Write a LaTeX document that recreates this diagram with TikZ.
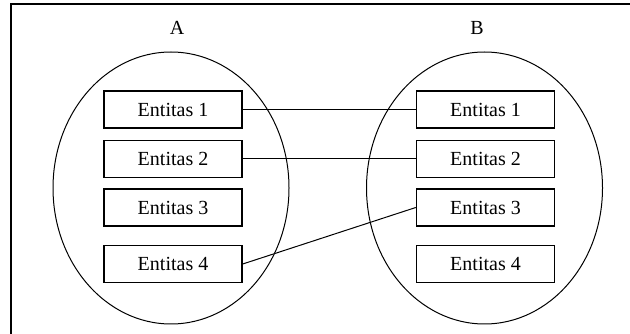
\documentclass[tikz,border=0pt]{standalone}
\usepackage{fontspec}
\setmainfont{Liberation Serif}
\usetikzlibrary{positioning,shapes.geometric}
\tikzset{entbox/.style={draw,line width=0.9pt,minimum width=82.8pt,minimum height=22.2pt,inner sep=0pt,font=\fontsize{12}{14}\selectfont},
  setell/.style={draw,ellipse,line width=0.6pt,minimum width=141.6pt,minimum height=163.2pt,inner sep=0pt},
  setlbl/.style={font=\fontsize{12}{14}\selectfont}}

\begin{document}
\begin{tikzpicture}[x=0.6pt,y=-0.6pt]
  \useasboundingbox (0,0) rectangle (630,334);
  \draw[line width=0.9pt] (11,334) -- (11,4) -- (630,4);
  \node[setell] (setA) at (171,188) {};
  \node[setell] (setB) at (484.5,188) {};
  \node[setlbl] (lblA) at (177,28) {A};
  \node[setlbl] (lblB) at (477,28) {B};
  \node[entbox] (a1) at (173,109.5) {Entitas 1};
  \node[entbox,below=6.6pt of a1] (a2) {Entitas 2};
  \node[entbox,below=6pt of a2] (a3) {Entitas 3};
  \node[entbox,below=10.8pt of a3] (a4) {Entitas 4};
  \node[entbox] (b1) at (485.5,109.5) {Entitas 1};
  \node[entbox,below=6.6pt of b1] (b2) {Entitas 2};
  \node[entbox,below=6pt of b2] (b3) {Entitas 3};
  \node[entbox,below=10.8pt of b3] (b4) {Entitas 4};
  \draw[line width=0.6pt] (a1.east) -- (b1.west);
  \draw[line width=0.6pt] (a2.east) -- (b2.west);
  \draw[line width=0.6pt] (a4.east) -- (b3.west);
\end{tikzpicture}
\end{document}
